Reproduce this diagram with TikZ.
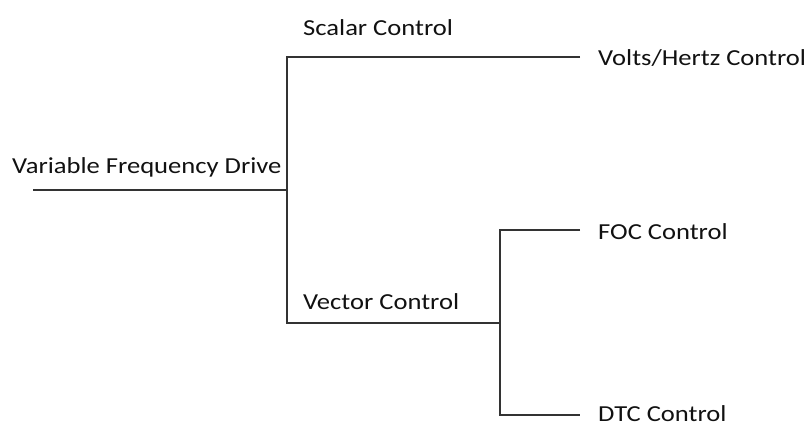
\documentclass[tikz,border=0pt]{standalone}
\usepackage{fontspec}
\setmainfont{Carlito}[FakeStretch=1.16]
\definecolor{linecol}{HTML}{333333}
\definecolor{txtcol}{HTML}{111111}
\begin{document}
\begin{tikzpicture}[x=1bp,y=-1bp,
  lbl/.style={anchor=base west,inner sep=0pt,text=txtcol,font=\fontsize{23}{27}\selectfont},
  conn/.style={draw=linecol,line width=1.6bp}]
\useasboundingbox (0,0) rectangle (806,425);
\clip (0,0) rectangle (806,425);
% labels
\node[lbl] (vfd) at (12,173) {Variable Frequency Drive};
\node[lbl] (scalar) at (303,35) {Scalar Control};
\node[lbl] (vh) at (598,65) {Volts/Hertz Control};
\node[lbl] (vector) at (303,309) {Vector Control};
\node[lbl] (foc) at (598,239) {FOC Control};
\node[lbl] (dtc) at (598,421) {DTC Control};
% junctions
\coordinate (root) at (33,190);
\coordinate (j1) at (287,190);
\coordinate (vhend) at (580,57);
\coordinate (vecend) at (287,323);
\coordinate (j2) at (500,323);
\coordinate (focend) at (580,230);
\coordinate (dtcend) at (580,415);
% connectors
\draw[conn] (root) -- (j1);
\draw[conn] (vhend) -| (vecend) -- (j2);
\draw[conn] (focend) -| (dtcend -| j2) -- (dtcend);
\end{tikzpicture}
\end{document}
